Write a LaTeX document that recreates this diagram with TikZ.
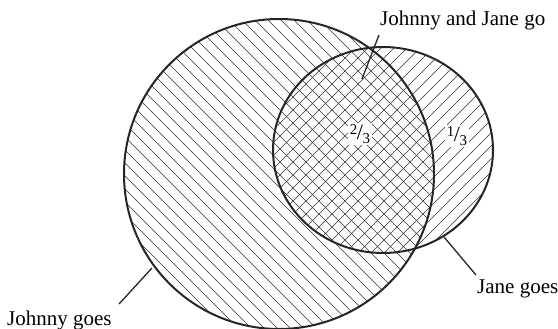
\documentclass[tikz,border=0pt]{standalone}
\usepackage{fontspec}
\setmainfont{Liberation Serif}
\usetikzlibrary{calc}
\newcommand{\slashfrac}[2]{\raisebox{5pt}{\fontsize{15}{15}\selectfont#1}\kern-0.5pt/\kern-0.5pt\raisebox{-4.5pt}{\fontsize{15}{15}\selectfont#2}}
\tikzset{
  setborder/.style={line width=2pt,black!85},
  hatchline/.style={line width=0.7pt,black!80},
  leader/.style={line width=1.3pt,black!85},
  setlabel/.style={font=\fontsize{21}{25}\selectfont,inner sep=0pt,anchor=base west},
  fraclabel/.style={fill=white,inner sep=1.5pt,font=\fontsize{22}{26}\selectfont}
}

\begin{document}
\begin{tikzpicture}[x=1pt,y=-1pt]
\useasboundingbox (0,0) rectangle (558,329);
\coordinate (johnny) at (279,174);
\coordinate (jane) at (383,150);
% hatching of the two sets
\begin{scope}
  \clip (johnny) circle [radius=155];
  \foreach \k in {-30,...,30}{
    \draw[hatchline] ($(johnny)+(\k*13,0)+(-220,-220)$) -- ++(440,440);
  }
\end{scope}
\begin{scope}
  \clip (jane) ellipse [x radius=110,y radius=103];
  \foreach \k in {-25,...,25}{
    \draw[hatchline] ($(jane)+(\k*13,0)+(-160,160)$) -- ++(320,-320);
  }
\end{scope}
\node[fraclabel] (both) at (360,134) {\slashfrac{2}{3}};
\node[fraclabel] (janeonly) at (457,136) {\slashfrac{1}{3}};
% outlines
\draw[setborder] (johnny) circle [radius=155];
\draw[setborder] (jane) ellipse [x radius=110,y radius=103];
% labels and leaders
\node[setlabel] (bothlabel) at (380,26) {Johnny and Jane go};
\node[setlabel] (janelabel) at (477,293) {Jane goes};
\node[setlabel] (johnnylabel) at (7,325) {Johnny goes};
\coordinate (bothtip) at (362,79);
\coordinate (bothend) at (379,35);
\coordinate (janetip) at (444,237);
\coordinate (janeend) at (476,275);
\coordinate (johnnytip) at (152,268);
\coordinate (johnnyend) at (119,304);
\draw[leader] (bothend) -- (bothtip);
\draw[leader] (janeend) -- (janetip);
\draw[leader] (johnnyend) -- (johnnytip);
\end{tikzpicture}
\end{document}
